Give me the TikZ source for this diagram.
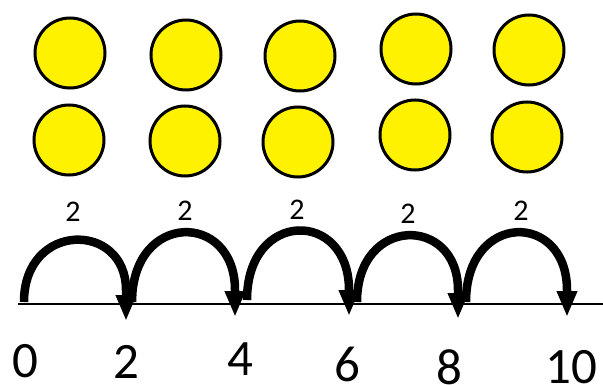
\documentclass[tikz,border=0pt]{standalone}
\usepackage{fontspec}
\setmainfont{Carlito}
\usetikzlibrary{arrows.meta}
\begin{document}
\begin{tikzpicture}[x=1pt,y=-1pt,
  dot/.style={circle,draw=black,fill=yellow,line width=3pt,minimum size=70pt,inner sep=0pt},
  jump/.style={line width=8.5pt,-{Triangle[length=26pt,width=19pt]}},
  numline/.style={line width=2.8pt},
  lab/.style={font=\fontsize{30}{30}\selectfont,inner sep=0pt},
  num/.style={font=\fontsize{51}{51}\selectfont,inner sep=0pt}]
\useasboundingbox (0,0) rectangle (603,385);
% counters
\node[dot] (d1a) at (70,53) {};
\node[dot] (d1b) at (69,140) {};
\node[dot] (d2a) at (186,55) {};
\node[dot] (d2b) at (185,141) {};
\node[dot] (d3a) at (300,56) {};
\node[dot] (d3b) at (298,142) {};
\node[dot] (d4a) at (416,49) {};
\node[dot] (d4b) at (415,135) {};
\node[dot] (d5a) at (529,50) {};
\node[dot] (d5b) at (527,137) {};
% number line
\coordinate (L0) at (18,304);
\coordinate (L1) at (603,304);
\draw[numline] (L0) -- (L1);
% jump coordinates
\coordinate (s1) at (24,302);  \coordinate (e1) at (126,290); \coordinate (t1) at (126,321);
\coordinate (s2) at (132,302); \coordinate (e2) at (235,290); \coordinate (t2) at (235,317);
\coordinate (s3) at (247,300); \coordinate (e3) at (349,290); \coordinate (t3) at (349,316);
\coordinate (s4) at (357,302); \coordinate (e4) at (458,290); \coordinate (t4) at (458,319);
\coordinate (s5) at (466,302); \coordinate (e5) at (567,290); \coordinate (t5) at (567,317);
\draw[jump] (s1) .. controls +(0,-81) and +(0,-69) .. (e1) -- (t1);
\draw[jump] (s2) .. controls +(0,-91) and +(0,-79) .. (e2) -- (t2);
\draw[jump] (s3) .. controls +(0,-91) and +(0,-81) .. (e3) -- (t3);
\draw[jump] (s4) .. controls +(0,-87) and +(0,-75) .. (e4) -- (t4);
\draw[jump] (s5) .. controls +(0,-91) and +(0,-79) .. (e5) -- (t5);
% jump labels
\node[lab] (j1) at (73,212) {2};
\node[lab] (j2) at (185,211) {2};
\node[lab] (j3) at (297,210) {2};
\node[lab] (j4) at (408,214) {2};
\node[lab] (j5) at (521,211) {2};
% numbers
\node[num] (n0) at (25,361) {0};
\node[num] (n2) at (126,362) {2};
\node[num] (n4) at (240,359) {4};
\node[num] (n6) at (347,364) {6};
\node[num] (n8) at (449,367) {8};
\node[num] (n10) at (571,367) {10};
\end{tikzpicture}
\end{document}
